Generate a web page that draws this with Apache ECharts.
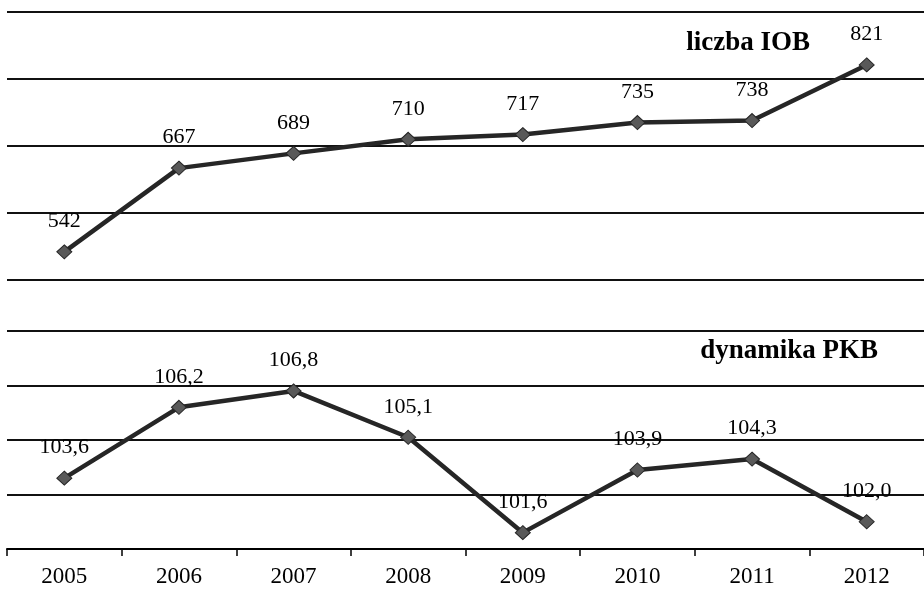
<!DOCTYPE html>
<html>
<head>
<meta charset="utf-8">
<script src="https://cdn.jsdelivr.net/npm/echarts@6/dist/echarts.min.js"></script>
<style>
html,body{margin:0;padding:0;background:#fff;}
#chart{width:924px;height:589px;}
</style>
</head>
<body>
<div id="chart"></div>
<script>
var years = ['2005','2006','2007','2008','2009','2010','2011','2012'];
var iobValues = [542, 667, 689, 710, 717, 735, 738, 821];
var pkbValues = [103.6, 106.2, 106.8, 105.1, 101.6, 103.9, 104.3, 102.0];
var iobTitle = 'liczba IOB';
var pkbTitle = 'dynamika PKB';

var FONT = '"Liberation Serif", "Times New Roman", serif';
var chart = echarts.init(document.getElementById('chart'), null, {renderer:'canvas'});

function fmtPL(v){ return v.toFixed(1).replace('.', ','); }

var option = {
  backgroundColor: '#ffffff',
  animation: false,
  title: [
    {text: iobTitle, right: 109, top: 25, textStyle:{fontFamily:FONT, fontSize:27, fontWeight:'bold', color:'#000'}},
    {text: pkbTitle, right: 41, top: 333, textStyle:{fontFamily:FONT, fontSize:27, fontWeight:'bold', color:'#000'}}
  ],
  grid: [
    {left: 7, right: -8, top: 12, height: 268},
    {left: 7, right: -8, top: 331, height: 218}
  ],
  xAxis: [
    {type:'category', gridIndex:0, data: years, show:false, boundaryGap:true},
    {type:'category', gridIndex:1, data: years, boundaryGap:true,
     axisLine:{show:true, lineStyle:{color:'#000', width:2}},
     axisTick:{show:true, length:7, lineStyle:{color:'#000', width:1.5}},
     axisLabel:{fontFamily:FONT, fontSize:23, color:'#000', margin:16}}
  ],
  yAxis: [
    {type:'value', gridIndex:0, min:500, max:900, interval:100,
     axisLine:{show:false}, axisTick:{show:false}, axisLabel:{show:false},
     splitLine:{show:true, lineStyle:{color:'#111', width:2}}},
    {type:'value', gridIndex:1, min:101, max:109, interval:2,
     axisLine:{show:false}, axisTick:{show:false}, axisLabel:{show:false},
     splitLine:{show:true, lineStyle:{color:'#111', width:2}}}
  ],
  series: [
    {type:'line', xAxisIndex:0, yAxisIndex:0, data: iobValues,
     symbol:'diamond', symbolSize:[15,14],
     lineStyle:{color:'#262626', width:4.5},
     itemStyle:{color:'#595959', borderColor:'#262626', borderWidth:1},
     label:{show:true, position:'top', distance:12, fontFamily:FONT, fontSize:22, color:'#000'}},
    {type:'line', xAxisIndex:1, yAxisIndex:1, data: pkbValues,
     symbol:'diamond', symbolSize:[15,14],
     lineStyle:{color:'#262626', width:4.5},
     itemStyle:{color:'#595959', borderColor:'#262626', borderWidth:1},
     label:{show:true, position:'top', distance:12, fontFamily:FONT, fontSize:22, color:'#000',
            formatter:function(p){ return fmtPL(p.value); }}}
  ]
};
chart.setOption(option);
</script>
</body>
</html>
